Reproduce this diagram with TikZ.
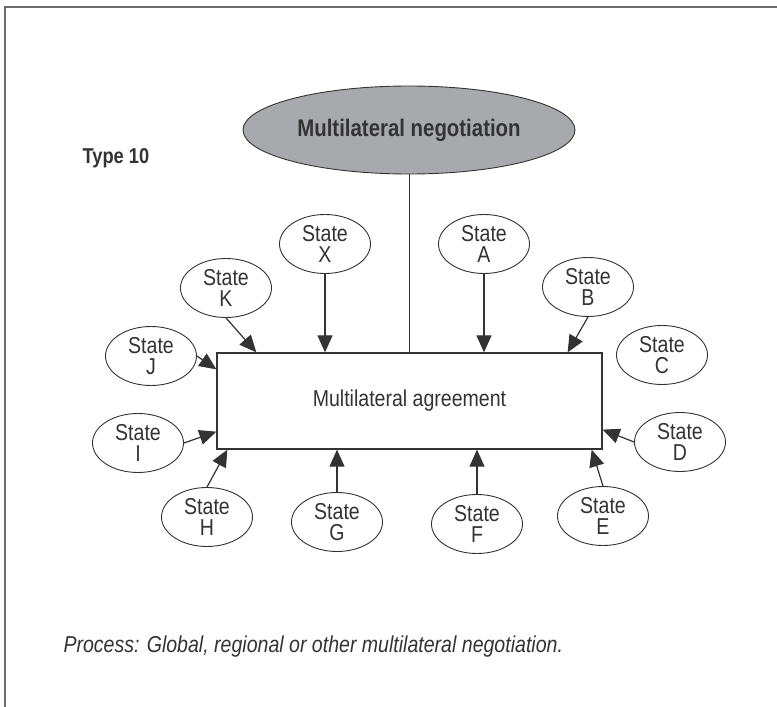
\documentclass[tikz,border=0pt]{standalone}
\usepackage{fontspec}
\setmainfont[FakeStretch=0.85]{Liberation Sans}
\usepackage{tikz}
\usetikzlibrary{arrows.meta,shapes.geometric,positioning,calc}

\definecolor{inkgray}{HTML}{333333}
\definecolor{framegray}{HTML}{6A6A6A}
\definecolor{ovalgray}{HTML}{A8A9AD}

\begin{document}
\begin{tikzpicture}[x=1pt, y=-1pt,
		statenode/.style={ellipse, draw=inkgray, line width=0.9pt, fill=white, text=inkgray,
			minimum width=91, minimum height=59, inner sep=0pt, align=center,
			font=\fontsize{23}{21}\selectfont},
		push/.style={-{Triangle[length=17pt, width=15pt]}, draw=inkgray, fill=inkgray, line width=1.2pt}]
		\useasboundingbox (0,0) rectangle (777,707);
		\draw[framegray, line width=1.3pt] (5,707) -- (5,7) -- (777,7);

		\node[anchor=west, text=inkgray, font=\bfseries\fontsize{21.5}{21}\selectfont] (type) at (79,158) {Type 10};
		\node[ellipse, draw=inkgray, line width=0.9pt, fill=ovalgray, text=inkgray, minimum width=332, minimum height=88, inner sep=0pt, font=\bfseries\fontsize{24}{24}\selectfont] (neg) at (409,130) {Multilateral negotiation};
		\node[draw=inkgray, line width=1.3pt, fill=white, text=inkgray, minimum width=385, minimum height=96, inner sep=0pt, font=\fontsize{23}{23}\selectfont] (agr) at (409.5,401) {Multilateral agreement};

		\node[statenode] (X) at (325,244) {State\\X};
		\node[statenode] (K) at (226,288) {State\\K};
		\node[statenode] (J) at (151,356) {State\\J};
		\node[statenode] (A) at (484,244) {State\\A};
		\node[statenode] (B) at (588,287) {State\\B};
		\node[statenode] (C) at (662,355) {State\\C};
		\node[statenode] (D) at (680,442) {State\\D};
		\node[statenode] (E) at (603,516) {State\\E};
		\node[statenode] (F) at (477,524) {State\\F};
		\node[statenode] (G) at (337,522) {State\\G};
		\node[statenode] (H) at (207,517) {State\\H};
		\node[statenode] (I) at (138,443) {State\\I};

		% points where the slanted arrows meet the agreement box
		\coordinate (toK) at ($(agr.north west)+(40,0)$);
		\coordinate (toB) at ($(agr.north east)+(-35,0)$);
		\coordinate (toJ) at ($(agr.north west)+(0,17)$);
		\coordinate (toI) at ($(agr.south west)+(0,-18)$);
		\coordinate (toH) at ($(agr.south west)+(11,0)$);
		\coordinate (toE) at ($(agr.south east)+(-11,0)$);
		\coordinate (toD) at ($(agr.south east)+(0,-20)$);

		\draw[inkgray, line width=0.9pt] (neg.south) -- (neg.south |- agr.north);

		\draw[push] (X.south) -- (X.south |- agr.north);
		\draw[push] (A.south) -- (A.south |- agr.north);
		\draw[push] (K.south) -- (toK);
		\draw[push] (B.south) -- (toB);
		\draw[push] (J.east) -- (toJ);
		\draw[push] (I.east) -- (toI);
		\draw[push] (H.north) -- (toH);
		\draw[push] (G.north) -- (G.north |- agr.south);
		\draw[push] (F.north) -- (F.north |- agr.south);
		\draw[push] (E.north) -- (toE);
		\draw[push] (D.west) -- (toD);

		\node[anchor=west, text=inkgray, font=\itshape\fontsize{23}{23}\selectfont] (caption) at (60,647) {Process: Global, regional or other multilateral negotiation.};
	\end{tikzpicture}
\end{document}
